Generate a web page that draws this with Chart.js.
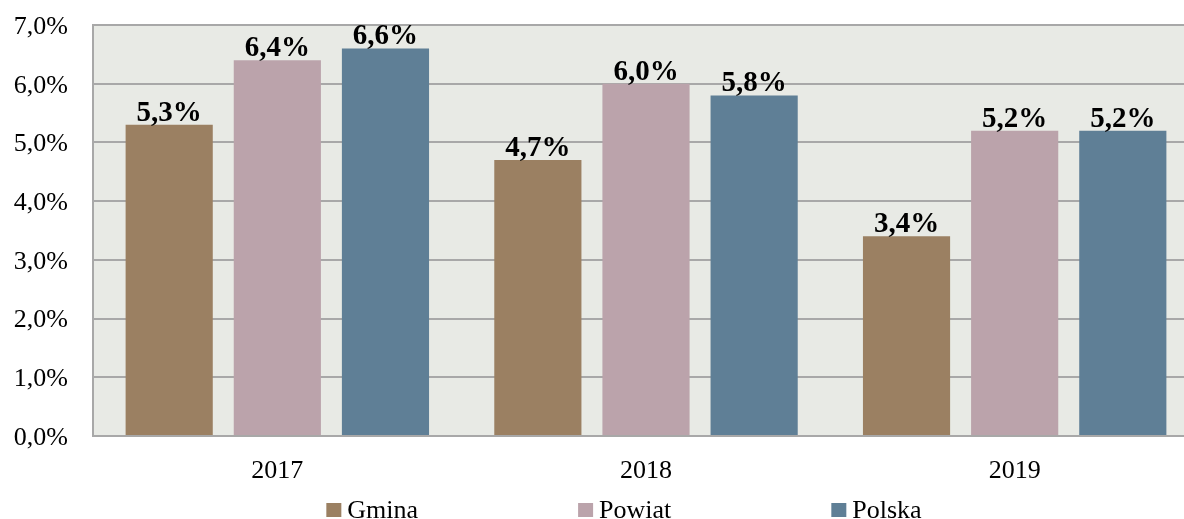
<!DOCTYPE html>
<html>
<head>
<meta charset="utf-8">
<script src="https://cdn.jsdelivr.net/npm/chart.js@4"></script>
<style>
  body { margin: 0; background: #fff; overflow: hidden; }
  #wrap { width: 1200px; height: 519px; position: relative; }
</style>
</head>
<body>
<div id="wrap"><canvas id="chart"></canvas></div>
<script>
// data
const years = ['2017', '2018', '2019'];
const gmina = [5.3, 4.7, 3.4];
const powiat = [6.4, 6.0, 5.2];
const polska = [6.6, 5.8, 5.2];
const yTicks = [0, 1, 2, 3, 4, 5, 6, 7];

const FONT = '"Liberation Serif", "Times New Roman", serif';
const gridColor = '#A8A8A8';

function fmt(v) {
    return v.toFixed(1).replace('.', ',') + '%';
}

// plot background
const plotBg = {
    id: 'plotBg',
    beforeDraw(chart) {
        const a = chart.chartArea;
        const ctx = chart.ctx;
        ctx.save();
        ctx.fillStyle = '#E8EAE5';
        ctx.fillRect(a.left, a.top, a.right - a.left, a.bottom - a.top);
        ctx.restore();
    }
};

// value labels above bars
const valueLabels = {
    id: 'valueLabels',
    afterDatasetsDraw(chart) {
        const ctx = chart.ctx;
        ctx.save();
        ctx.font = 'bold 29px ' + FONT;
        ctx.fillStyle = '#000';
        ctx.textAlign = 'center';
        ctx.textBaseline = 'alphabetic';
        chart.data.datasets.forEach((ds, i) => {
            chart.getDatasetMeta(i).data.forEach((bar, j) => {
                ctx.fillText(fmt(ds.data[j]), bar.x, bar.y - 4);
            });
        });
        ctx.restore();
    }
};

// legend spread out like the original
const wideLegend = {
    id: 'wideLegend',
    afterDraw(chart) {
        const ctx = chart.ctx;
        const box = 15, textGap = 6, itemGap = 160;
        ctx.save();
        ctx.font = 'normal 26px ' + FONT;
        const items = chart.data.datasets.map(ds => ({
            label: ds.label,
            color: ds.backgroundColor,
            w: box + textGap + ctx.measureText(ds.label).width
        }));
        const total = items.reduce((s, it) => s + it.w, 0) + itemGap * (items.length - 1);
        let x = 624 - total / 2;
        const cy = 510;
        ctx.textBaseline = 'middle';
        ctx.textAlign = 'left';
        items.forEach(it => {
            ctx.fillStyle = it.color;
            ctx.fillRect(x, cy - 7, box, box - 1);
            ctx.fillStyle = '#000';
            ctx.fillText(it.label, x + box + textGap, cy + 1);
            x += it.w + itemGap;
        });
        ctx.restore();
    }
};

new Chart(document.getElementById('chart'), {
    type: 'bar',
    data: {
        labels: years,
        datasets: [
            { label: 'Gmina', data: gmina, backgroundColor: '#9B8062' },
            { label: 'Powiat', data: powiat, backgroundColor: '#BBA3AB' },
            { label: 'Polska', data: polska, backgroundColor: '#5F7F96' }
        ]
    },
    options: {
        responsive: true,
        maintainAspectRatio: false,
        animation: false,
        datasets: {
            bar: { categoryPercentage: 0.88, barPercentage: 0.806 }
        },
        layout: { padding: { top: 25, left: 13, right: 1, bottom: 34 } },
        plugins: {
            legend: { display: false },
            tooltip: { enabled: false }
        },
        scales: {
            x: {
                afterFit(axis) { axis.height = 49; },
                grid: { display: false, drawTicks: false },
                border: { display: true, color: gridColor, width: 2 },
                ticks: {
                    color: '#000',
                    padding: 20,
                    font: { family: FONT, size: 26 }
                }
            },
            y: {
                min: 0,
                max: 7,
                afterFit(axis) {
                    axis.width = 80;
                    axis.paddingTop = 0;
                    axis.paddingBottom = 0;
                },
                afterBuildTicks(axis) {
                    axis.ticks = yTicks.map(v => ({ value: v }));
                },
                grid: { color: gridColor, lineWidth: 2, drawTicks: false },
                border: { display: true, color: gridColor, width: 2 },
                ticks: {
                    color: '#000',
                    padding: 25,
                    labelOffset: 2,
                    font: { family: FONT, size: 26 },
                    callback: v => fmt(v)
                }
            }
        }
    },
    plugins: [plotBg, valueLabels, wideLegend]
});
</script>
</body>
</html>
